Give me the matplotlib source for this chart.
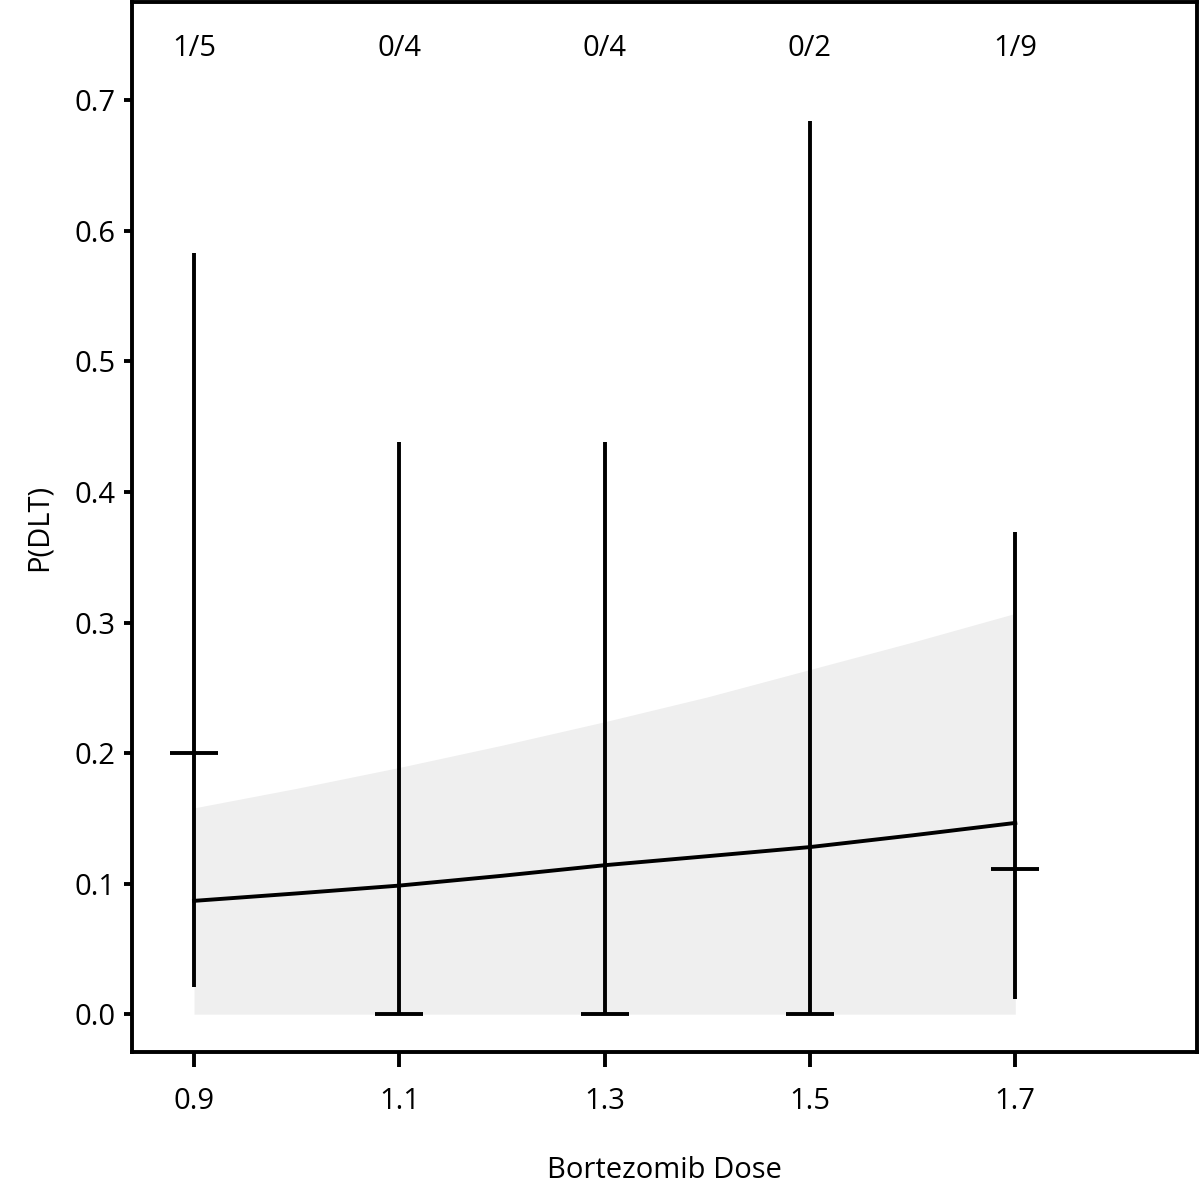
import matplotlib
matplotlib.use("Agg")
import matplotlib.pyplot as plt
import numpy as np

plt.rcParams['font.family'] = ['Open Sans', 'DejaVu Sans']

# Observed data per dose
doses = [0.9, 1.1, 1.3, 1.5, 1.7]
obs_prop = [0.2, 0.0, 0.0, 0.0, 0.111]
ci_low = [0.021, 0.0, 0.0, 0.0, 0.0115]
ci_high = [0.583, 0.438, 0.438, 0.684, 0.369]
count_labels = ["1/5", "0/4", "0/4", "0/2", "1/9"]

# Model fit curve and band
curve_x = [0.9, 1.0, 1.1, 1.2, 1.3, 1.4, 1.5, 1.6, 1.7]
curve_mean = [0.0868, 0.0925, 0.0985, 0.106, 0.1141, 0.121, 0.128, 0.137, 0.1465]
band_upper = [0.158, 0.173, 0.189, 0.206, 0.224, 0.243, 0.264, 0.285, 0.307]
band_lower = [0.0, 0.0, 0.0, 0.0, 0.0, 0.0, 0.0, 0.0, 0.0]

xticks = [0.9, 1.1, 1.3, 1.5, 1.7]
xtick_labels = ["0.9", "1.1", "1.3", "1.5", "1.7"]
yticks = [0.0, 0.1, 0.2, 0.3, 0.4, 0.5, 0.6, 0.7]
ytick_labels = ["0.0", "0.1", "0.2", "0.3", "0.4", "0.5", "0.6", "0.7"]

FS = 21
LW = 2.8

fig = plt.figure(figsize=(12, 12), dpi=100)
ax = fig.add_axes([0.11, 0.1233, 0.8875, 0.8747])

ax.fill_between(curve_x, band_lower, band_upper, color="#efefef", lw=0, zorder=1)
ax.plot(curve_x, curve_mean, color="black", lw=LW, zorder=3)
ax.vlines(doses, ci_low, ci_high, color="black", lw=LW, zorder=4)
ax.plot(doses, obs_prop, linestyle="none", marker="_", markersize=35,
        markeredgewidth=LW, color="black", zorder=5)

for d, lab in zip(doses, count_labels):
    ax.text(d, 0.740, lab, ha="center", va="center", fontsize=FS)

ax.set_xlim(0.8396, 1.877)
ax.set_ylim(-0.029, 0.775)
ax.set_xticks(xticks)
ax.set_xticklabels(xtick_labels)
ax.set_yticks(yticks)
ax.set_yticklabels(ytick_labels)

for s in ax.spines.values():
    s.set_linewidth(LW)
ax.tick_params(axis="x", direction="out", length=11, width=LW, pad=14, labelsize=FS)
ax.tick_params(axis="y", direction="out", length=6, width=LW, pad=6, labelsize=FS)

ax.set_xlabel("Bortezomib Dose", fontsize=FS, labelpad=29)
ax.set_ylabel("P(DLT)", fontsize=FS, labelpad=15)

fig.savefig("out.png", dpi=100)
